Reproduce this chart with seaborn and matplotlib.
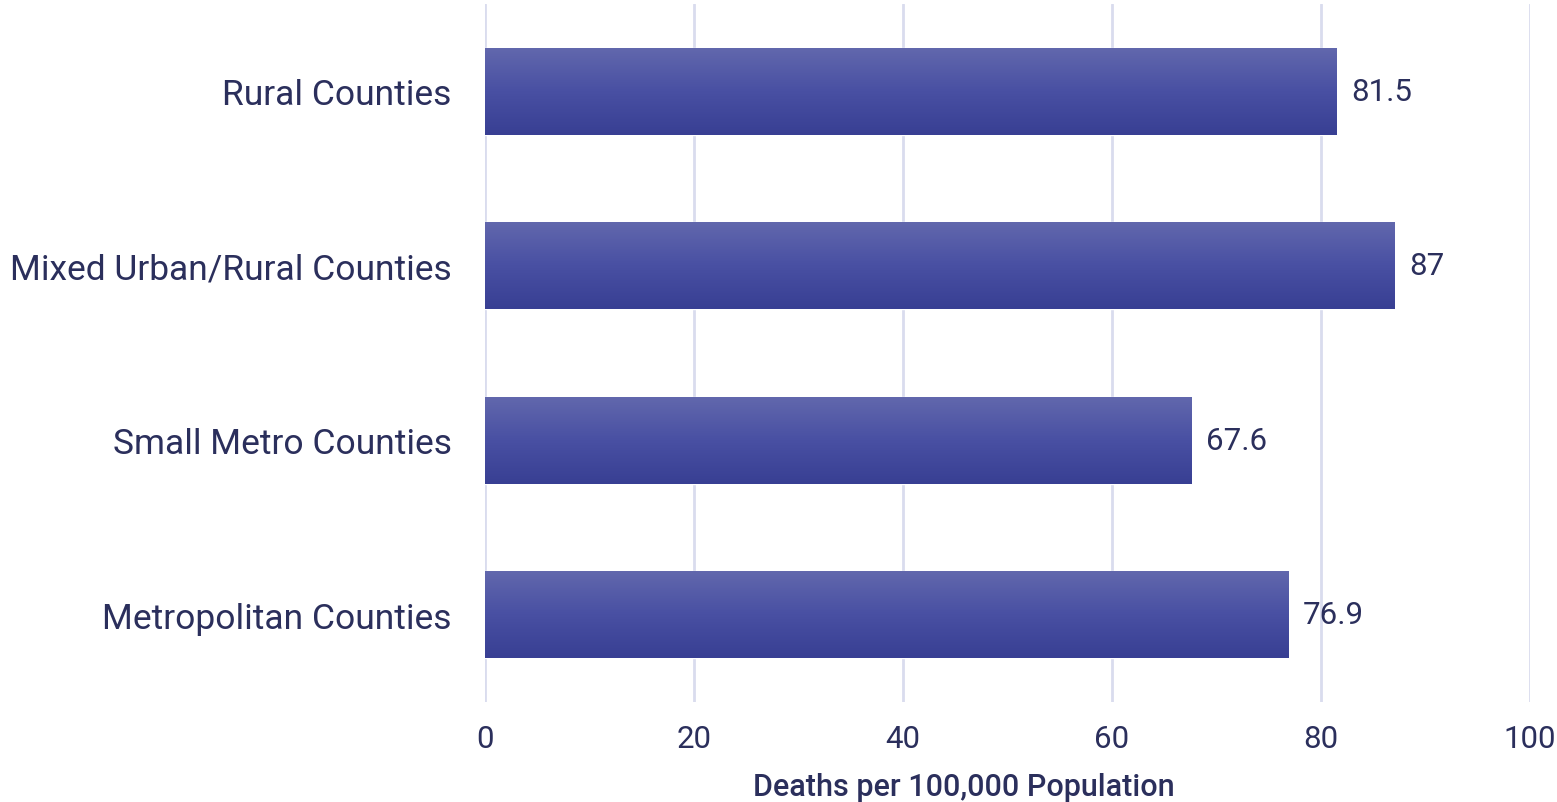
import numpy as np
import pandas as pd
import matplotlib
matplotlib.use("Agg")
import matplotlib.pyplot as plt
from matplotlib.colors import LinearSegmentedColormap
import seaborn as sns

# ── data ────────────────────────────────────────────────────────────────
categories = ["Rural Counties", "Mixed Urban/Rural Counties",
              "Small Metro Counties", "Metropolitan Counties"]
values = [81.5, 87, 67.6, 76.9]
value_labels = ["81.5", "87", "67.6", "76.9"]
x_ticks = [0, 20, 40, 60, 80, 100]

TEXT = "#2b2f5c"
GRID = "#d9dcee"
TOP_C = "#6268ad"
BOT_C = "#383f93"

sns.set_theme(style="white")
plt.rcParams['font.family'] = ['Roboto', 'DejaVu Sans']

df = pd.DataFrame({"category": categories, "value": values})

fig = plt.figure(figsize=(15.57, 8.03), dpi=100)
ax = fig.add_axes([485 / 1557, 1 - 703 / 803, (1530 - 485) / 1557, 698 / 803])

sns.barplot(data=df, x="value", y="category", orient="h", color="#464c9d",
            width=0.5, ax=ax, zorder=2)

# vertical gradient inside each bar
cmap = LinearSegmentedColormap.from_list("barg", [TOP_C, "#4950a3", BOT_C])
grad = np.linspace(0, 1, 256).reshape(-1, 1)
for p in ax.patches:
    x0, y0 = p.get_x(), p.get_y()
    w, h = p.get_width(), p.get_height()
    im = ax.imshow(grad, cmap=cmap, aspect="auto", origin="upper",
                   extent=[x0, x0 + w, y0 + h, y0], zorder=3)
    im.set_clip_path(p)

for i, (v, lab) in enumerate(zip(values, value_labels)):
    ax.text(v + 1.4, i, lab, va="center", ha="left", fontsize=22.5, color=TEXT, zorder=4)

ax.set_xlim(0, 100)
ax.set_ylim(3.5, -0.5)
ax.set_xticks(x_ticks)
ax.set_xticklabels([str(t) for t in x_ticks], fontsize=22.5, color=TEXT)
ax.tick_params(axis="x", length=0, pad=16)
ax.tick_params(axis="y", length=0, pad=24, labelsize=25.5, labelcolor=TEXT)
for t in ax.get_yticklabels():
    t.set_va("center_baseline")
ax.set_ylabel("")
ax.set_xlabel("Deaths per 100,000 Population", fontsize=22, color=TEXT,
              fontweight="medium")
ax.xaxis.set_label_coords(0.458, -0.1)
ax.grid(axis="x", color=GRID, linewidth=2, zorder=0)
ax.grid(axis="y", visible=False)
ax.set_axisbelow(True)
for s in ax.spines.values():
    s.set_visible(False)

fig.savefig("out.png", dpi=100)
